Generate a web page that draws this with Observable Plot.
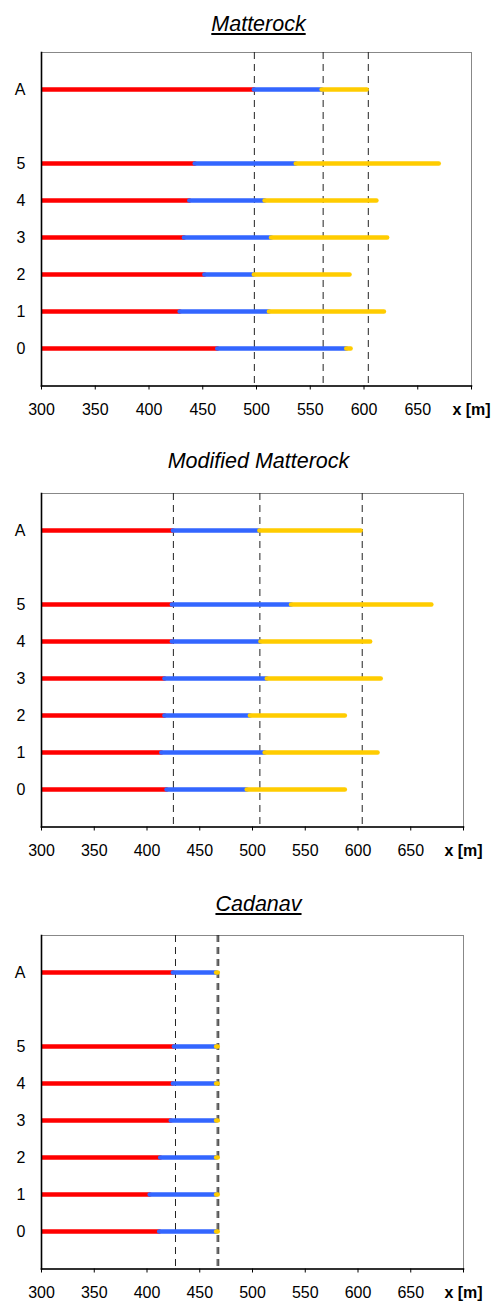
<!DOCTYPE html>
<html><head><meta charset="utf-8">
<script src="https://cdn.jsdelivr.net/npm/d3@7"></script>
<script src="https://cdn.jsdelivr.net/npm/@observablehq/plot@0.6"></script>
<style>
body{margin:0;background:#fff;}
#wrap{position:relative;width:496px;height:1301px;overflow:hidden;font-family:"Liberation Sans",Arial,sans-serif;}
.title{position:absolute;left:0;width:517px;text-align:center;font-style:italic;font-size:21.5px;line-height:21.5px;color:#000;white-space:nowrap;}
.panel{position:absolute;left:0;}
.panel svg g[aria-label="x-axis tick label"] text:last-child{font-weight:bold;}
</style></head><body><div id="wrap"></div>
<script>
// ---- data ----
const rowLabels = ["A","5","4","3","2","1","0"];
const yDomain = ["A"," ","5","4","3","2","1","0"];
const xTicks = [300,350,400,450,500,550,600,650,700];
const xAxisLabel = "x [m]";
const xStart = 300;
const segmentNames = ["segment 1","segment 2","segment 3"];
const segmentColors = ["#ff0000","#3366ff","#ffcc00"];

const titles = ["Matterock","Modified Matterock","Cadanav"];
const titleUnderline = [true,false,true];

// rows in order A,5,4,3,2,1,0
const matterockRed    = [498,443,438,433,452,429,464];
const matterockBlue   = [561,537,508,514,498,512,584];
const matterockYellow = [603,670,612,622,587,619,588];
const matterockDashes = [498,562,604];

const modifiedRed    = [425,424,424,417,417,414,419];
const modifiedBlue   = [507,537,508,514,498,512,495];
const modifiedYellow = [603,670,612,622,588,619,588];
const modifiedDashes = [425,507,604];

const cadanavRed    = [425,426,425,423,413,403,412];
const cadanavBlue   = [466,466,466,466,466,466,466];
const cadanavYellow = [467.5,467.5,467.5,467.5,467.5,467.5,467.5];
const cadanavDashes = [427,466.5,468];

const panels = [
  {red:matterockRed, blue:matterockBlue, yellow:matterockYellow, dashes:matterockDashes},
  {red:modifiedRed, blue:modifiedBlue, yellow:modifiedYellow, dashes:modifiedDashes},
  {red:cadanavRed, blue:cadanavBlue, yellow:cadanavYellow, dashes:cadanavDashes}
];

// ---- layout ----
const frameTops = [52, 493.3, 934.7];
const titleTops = [13.8, 451.1, 893.5];
const marginRights = [25, 33, 33];
const wrap = document.getElementById("wrap");

panels.forEach((p, i) => {
  const segs = [];
  rowLabels.forEach((r, k) => {
    segs.push({row:r, x1:xStart, x2:p.red[k], s:segmentNames[0]});
    segs.push({row:r, x1:p.red[k], x2:p.blue[k], s:segmentNames[1]});
    segs.push({row:r, x1:p.blue[k], x2:p.yellow[k], s:segmentNames[2]});
  });
  const chart = Plot.plot({
    width:496, height:378,
    marginLeft:41, marginRight:marginRights[i], marginTop:10, marginBottom:34.5,
    style:{fontFamily:"'Liberation Sans', Arial, sans-serif", fontSize:"16px", color:"#000", background:"transparent", overflow:"visible"},
    x:{domain:[xTicks[0], xTicks[xTicks.length-1]]},
    y:{type:"point", domain:yDomain, padding:1},
    color:{type:"ordinal", domain:segmentNames, range:segmentColors},
    marks:[
      Plot.frame({stroke:"#888", strokeWidth:1}),
      Plot.ruleX(p.dashes, {stroke:"#222", strokeWidth:1, strokeDasharray:"7,5"}),
      Plot.ruleY(segs, {y:"row", x1:"x1", x2:"x2", stroke:"s", strokeWidth:4.5, strokeLinecap:"round", clip:true}),
      Plot.axisY({ticks:rowLabels, tickSize:0, tickPadding:16, label:null, fontSize:16}),
      Plot.axisX({ticks:xTicks, tickSize:4, tickPadding:14, label:null, fontSize:16,
                  tickFormat:d => d === xTicks[xTicks.length-1] ? xAxisLabel : String(d)}),
      Plot.frame({anchor:"left", stroke:"#000", strokeWidth:1.6}),
      Plot.frame({anchor:"bottom", stroke:"#000", strokeWidth:1.6})
    ]
  });
  const div = document.createElement("div");
  div.className = "panel";
  div.style.top = (frameTops[i] - 10) + "px";
  div.appendChild(chart);
  wrap.appendChild(div);

  const t = document.createElement("div");
  t.className = "title";
  t.style.top = titleTops[i] + "px";
  t.textContent = titles[i];
  if (titleUnderline[i]) t.style.textDecoration = "underline";
  wrap.appendChild(t);
});
</script>
</body></html>
